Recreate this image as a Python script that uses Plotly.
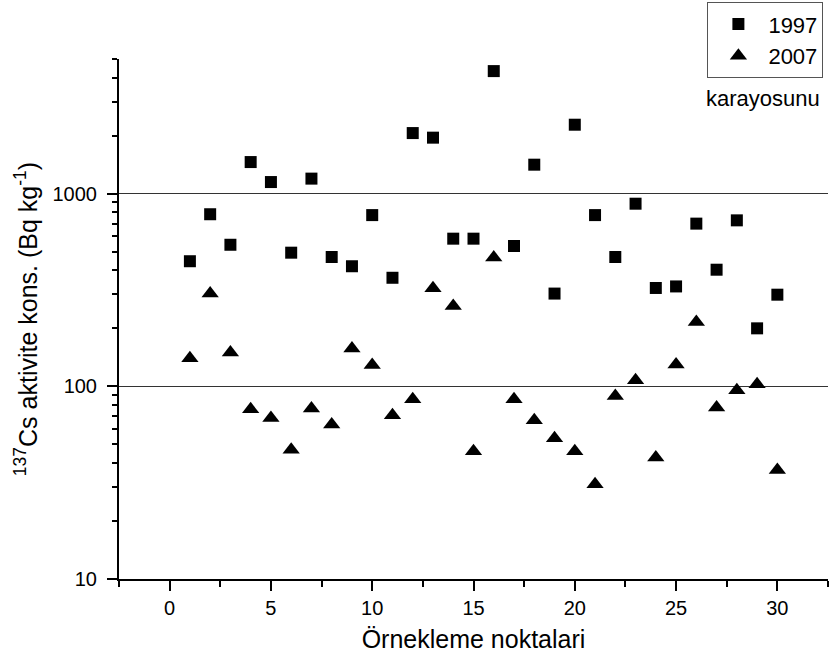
import plotly.graph_objects as go

# Sampling points and measured 137Cs activity concentrations (Bq/kg) in moss
points = list(range(1, 31))
cs_1997 = [446, 782, 543, 1459, 1149, 494, 1197, 469, 420, 774,
           366, 2063, 1953, 584, 584, 4327, 535, 1414, 303, 2280,
           774, 469, 887, 324, 330, 699, 403, 727, 200, 299]
cs_2007 = [140, 303, 150, 76, 68.5, 46.8, 76.7, 63.4, 157, 129,
           70.8, 85.7, 323, 261, 46, 466, 85.7, 66.7, 53.8, 46,
           31, 89.1, 107.6, 42.7, 129.8, 215.7, 77.6, 95.4, 102.5, 36.8]

x_ticks = [0, 5, 10, 15, 20, 25, 30]
y_ticks = [10, 100, 1000]
y_tick_text = ["10", "100", "1000"]
y_minor = [20, 30, 40, 50, 60, 70, 80, 90,
           200, 300, 400, 500, 600, 700, 800, 900,
           2000, 3000, 4000, 5000]

FONT = "Liberation Sans, Arial, sans-serif"

fig = go.Figure()
fig.add_trace(go.Scatter(
    x=points, y=cs_1997, mode="markers", name="1997",
    marker=dict(symbol="square", size=12, color="black", line=dict(width=0)),
))
fig.add_trace(go.Scatter(
    x=points, y=cs_2007, mode="markers", name="2007",
    marker=dict(symbol="triangle-up", size=15, color="black", line=dict(width=0)),
))

fig.update_layout(
    width=829, height=666,
    margin=dict(l=119, r=1, t=59, b=87),
    paper_bgcolor="white", plot_bgcolor="white",
    font=dict(family=FONT, size=20, color="black"),
    showlegend=True,
    legend=dict(
        x=0.9935, y=1.109, xanchor="right", yanchor="top",
        bordercolor="#555", borderwidth=1, bgcolor="white",
        font=dict(size=22), itemwidth=50,
    ),
    annotations=[dict(
        text="karayosunu", xref="paper", yref="paper",
        x=0.9915, y=0.924, xanchor="right", yanchor="middle",
        showarrow=False, font=dict(size=22),
    )],
)

fig.update_xaxes(
    range=[-2.5, 32.5], tickvals=x_ticks,
    showline=True, linecolor="black", linewidth=2,
    ticks="outside", ticklen=10, tickwidth=2, tickcolor="black",
    minor=dict(dtick=2.5, tick0=0, ticks="outside", ticklen=6, tickwidth=2, tickcolor="black"),
    showgrid=False, zeroline=False,
    title=dict(text="Örnekleme noktalari", font=dict(size=25), standoff=12),
)
fig.update_yaxes(
    type="log", range=[1, 3.69897],
    tickvals=y_ticks, ticktext=y_tick_text,
    showline=True, linecolor="black", linewidth=2,
    ticks="outside", ticklen=10, tickwidth=2, tickcolor="black",
    ticklabelstandoff=6,
    minor=dict(tickvals=y_minor, ticks="outside", ticklen=5, tickwidth=2, tickcolor="black"),
    showgrid=True, gridcolor="#333", gridwidth=1,
    zeroline=False,
    title=dict(text="<sup>137</sup>Cs aktivite kons. (Bq kg<sup>-1</sup>)", font=dict(size=25), standoff=8),
)

fig.write_html("out.html")
